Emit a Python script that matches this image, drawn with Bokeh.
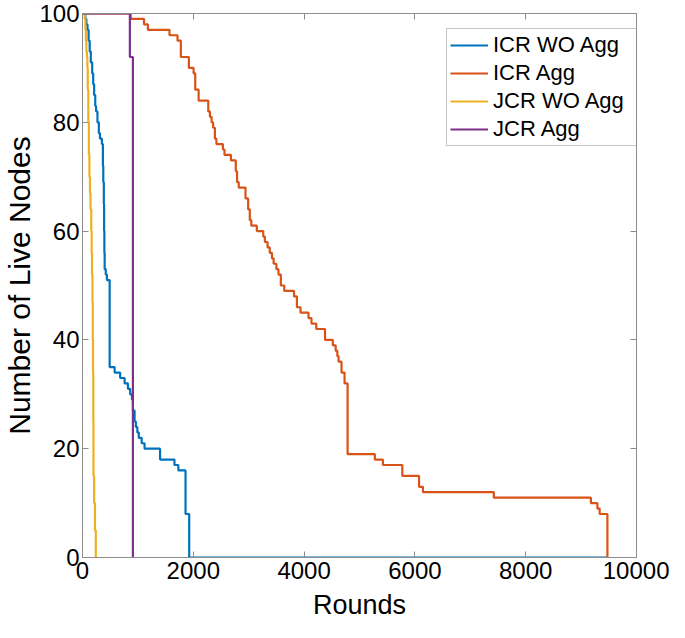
from bokeh.plotting import figure
from bokeh.models import LinearAxis, Range1d, Legend, LegendItem, FixedTicker
from bokeh.embed import file_html
from bokeh.resources import INLINE

x_ticks = [0, 2000, 4000, 6000, 8000, 10000]
y_ticks = [0, 20, 40, 60, 80, 100]
series_names = ["ICR WO Agg", "ICR Agg", "JCR WO Agg", "JCR Agg"]
series_colors = ["#0072BD", "#D95319", "#EDB120", "#7E2F8E"]

icr_wo_rounds = [0, 50, 70, 90, 110, 130, 150, 175, 193, 210, 230, 245, 270, 295, 315, 350, 368, 375, 385,
                 390, 395, 400, 420, 440, 490, 580, 680, 760, 820, 860, 893, 910, 940, 963, 990, 1016, 1068,
                 1120, 1400, 1660, 1730, 1860, 1926, 9475]
icr_wo_nodes = [100, 99, 98, 97, 95, 93, 91, 89, 87, 85, 83, 82, 80, 78, 77, 76, 72, 69, 65,
                60, 56, 53, 52, 51, 35, 34, 33, 32, 31, 30, 29, 27, 25, 24, 23, 22, 21,
                20, 18, 17, 16, 8, 0, 0]

icr_agg_rounds = [0, 870, 1110, 1180, 1570, 1715, 1775, 1920, 2005, 2035, 2096, 2270, 2300, 2330, 2358,
                  2390, 2417, 2534, 2563, 2680, 2767, 2790, 2820, 2942, 2990, 3020, 3047, 3147, 3263, 3292,
                  3340, 3380, 3420, 3450, 3500, 3537, 3580, 3642, 3818, 3870, 3935, 4080, 4133, 4220, 4378,
                  4518, 4570, 4600, 4623, 4676, 4730, 4785, 5277, 5422, 5773, 6075, 6145, 7425, 9177, 9294,
                  9335, 9475]
icr_agg_nodes = [100, 99, 98, 97, 96, 95, 92, 90, 89, 86, 84, 82, 81, 80, 79,
                 77, 76, 75, 74, 73, 71, 69, 68, 66, 64, 62, 61, 60, 59, 58,
                 57, 56, 55, 54, 53, 52, 50, 49, 48, 46, 45, 44, 43, 42, 40,
                 39, 38, 37, 36, 34, 32, 19, 18, 17, 15, 13, 12, 11, 10, 9,
                 8, 0]

jcr_wo_rounds = [0, 40, 52, 60, 70, 80, 88, 95, 105, 115, 125, 135, 145, 158, 165, 172, 180, 185, 190,
                 195, 198, 210, 225, 240]
jcr_wo_nodes = [100, 99, 97, 95, 93, 92, 90, 86, 80, 74, 70, 67, 64, 60, 56, 52, 47, 40, 34,
                25, 15, 10, 5, 0]

jcr_agg_rounds = [0, 855, 910]
jcr_agg_nodes = [100, 92, 0]

FONT = "Liberation Sans"
AXIS_COLOR = "#8c8c8c"

p = figure(width=669, height=622, output_backend="svg", toolbar_location=None,
           x_range=Range1d(0, 10000), y_range=Range1d(0, 100),
           x_axis_location=None, y_axis_location=None,
           min_border_left=82, min_border_right=33, min_border_top=13, min_border_bottom=63)
p.xgrid.visible = False
p.ygrid.visible = False
p.outline_line_color = None
p.background_fill_color = "white"
p.border_fill_color = "white"


def make_axis(show_labels, ticks, standoff=4):
    ax = LinearAxis(ticker=FixedTicker(ticks=ticks))
    ax.axis_line_color = AXIS_COLOR
    ax.axis_line_width = 1
    ax.major_tick_line_color = AXIS_COLOR
    ax.major_tick_in = 6
    ax.major_tick_out = 0
    ax.minor_tick_line_color = None
    if show_labels:
        ax.major_label_text_font = FONT
        ax.major_label_text_font_size = "24px"
        ax.major_label_text_color = "black"
        ax.major_label_standoff = standoff
    else:
        ax.major_label_text_font_size = "1px"
        ax.major_label_text_color = None
        ax.major_label_standoff = 0
    return ax


xb = make_axis(True, x_ticks)
xb.axis_label = "Rounds"
xb.axis_label_text_font = FONT
xb.axis_label_text_font_size = "27px"
xb.axis_label_text_font_style = "normal"
xb.axis_label_text_color = "black"
xb.axis_label_standoff = 8
p.add_layout(xb, "below")

p.add_layout(make_axis(False, x_ticks), "above")

yl = make_axis(True, y_ticks, standoff=3)
yl.axis_label = "Number of Live Nodes"
yl.axis_label_text_font = FONT
yl.axis_label_text_font_size = "30px"
yl.axis_label_text_font_style = "normal"
yl.axis_label_text_color = "black"
yl.axis_label_standoff = 0
p.add_layout(yl, "left")

p.add_layout(make_axis(False, y_ticks), "right")

data = [(icr_wo_rounds, icr_wo_nodes), (icr_agg_rounds, icr_agg_nodes),
        (jcr_wo_rounds, jcr_wo_nodes), (jcr_agg_rounds, jcr_agg_nodes)]
items = []
for (xs, ys), name, col in zip(data, series_names, series_colors):
    r = p.step(xs, ys, mode="after", line_width=2.2, line_color=col)
    items.append(LegendItem(label=name, renderers=[r]))

legend = Legend(items=items, location=(364, 411))
legend.label_text_font = FONT
legend.label_text_font_size = "22px"
legend.label_text_color = "black"
legend.glyph_width = 38
legend.glyph_height = 24
legend.label_standoff = 5
legend.label_width = 142
legend.spacing = 2
legend.padding = 3
legend.margin = 0
legend.border_line_color = AXIS_COLOR
legend.border_line_width = 1
legend.background_fill_color = "white"
p.add_layout(legend, "center")

open("out.html", "w").write(file_html(p, INLINE))
